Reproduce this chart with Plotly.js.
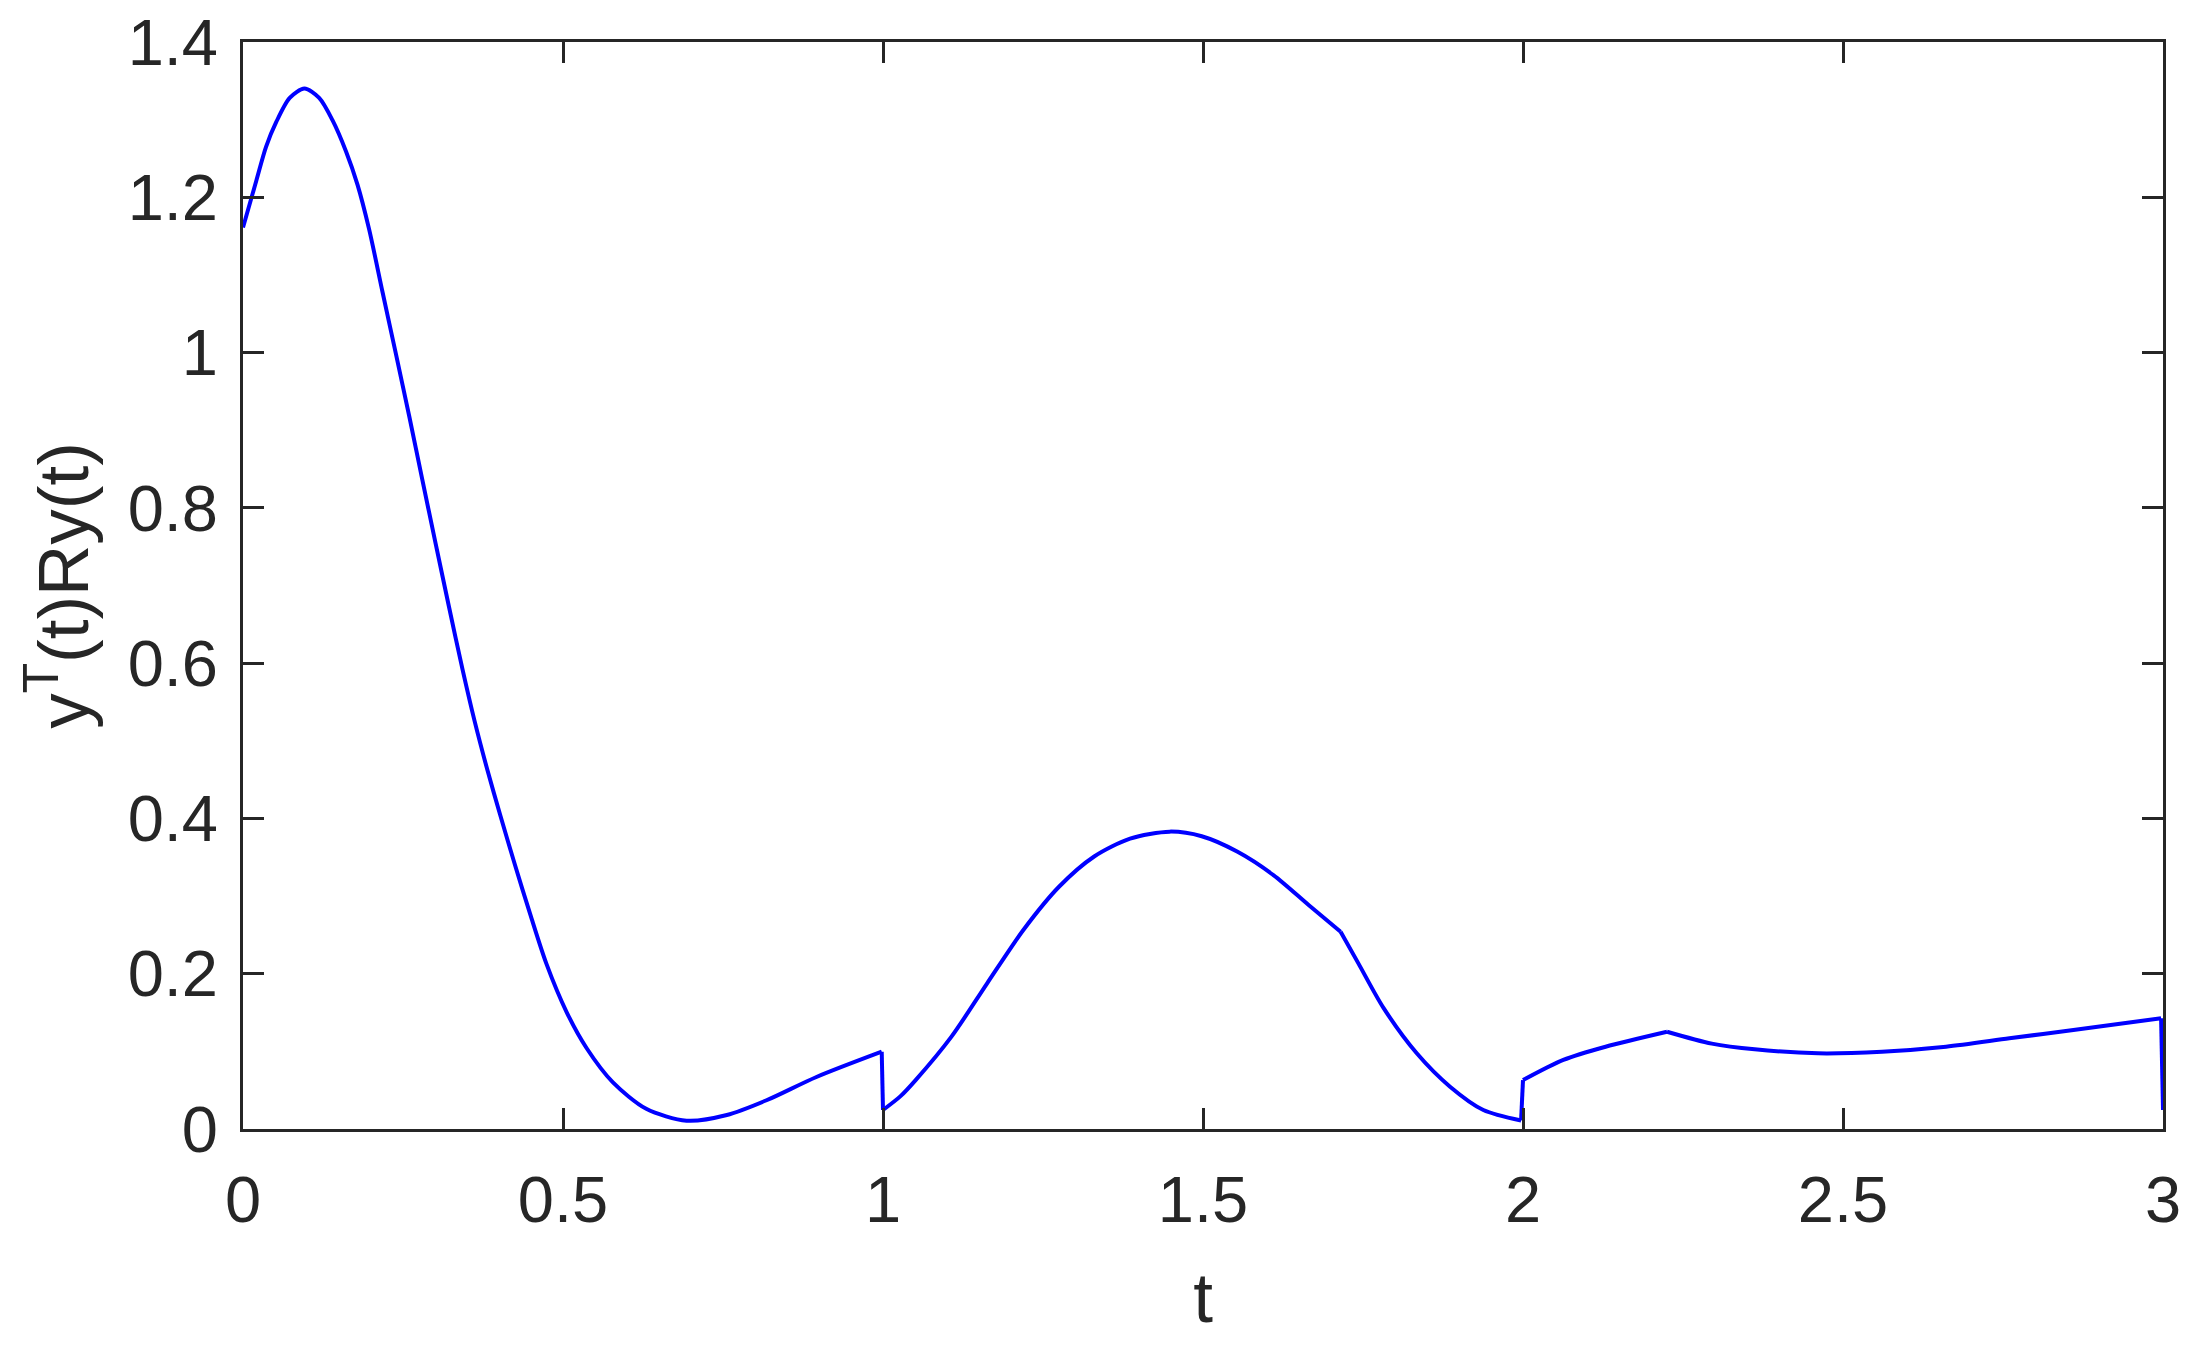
<!DOCTYPE html>
<html>
<head>
<meta charset="utf-8">
<script src="https://cdn.plot.ly/plotly-3.0.1.min.js"></script>
<style>
  html, body { margin: 0; padding: 0; background: #fff; }
  #graph { width: 2205px; height: 1364px; }
</style>
</head>
<body>
<div id="graph"></div>
<script>
// t values (jumps at t = 1, 2, 3 appear as repeated t)
var t = [0, 0.021, 0.036, 0.052, 0.073, 0.096, 0.119, 0.140, 0.161, 0.179,
  0.197, 0.218, 0.239, 0.260, 0.280, 0.301, 0.322, 0.343, 0.362, 0.382,
  0.402, 0.425, 0.449, 0.474, 0.506, 0.537, 0.578, 0.630, 0.693, 0.756,
  0.818, 0.896, 0.998,
  1.0, 1.027, 1.051, 1.107, 1.163, 1.219, 1.275, 1.330, 1.386, 1.448,
  1.498, 1.554, 1.610, 1.665, 1.715, 1.743, 1.782, 1.834, 1.886, 1.938,
  1.997,
  2.0, 2.063, 2.129, 2.225, 2.295, 2.362, 2.461, 2.561, 2.661, 2.760,
  2.860, 2.997, 3.0];

var yRy = [1.161, 1.222, 1.265, 1.297, 1.328, 1.340, 1.328, 1.299, 1.259, 1.216,
  1.159, 1.078, 0.998, 0.917, 0.837, 0.754, 0.672, 0.592, 0.525, 0.462,
  0.404, 0.340, 0.276, 0.213, 0.150, 0.104, 0.060, 0.026, 0.0107, 0.018,
  0.037, 0.067, 0.0996,
  0.0245, 0.042, 0.063, 0.119, 0.188, 0.256, 0.312, 0.351, 0.374, 0.383,
  0.377, 0.357, 0.327, 0.2885, 0.254, 0.213, 0.156, 0.0975, 0.0545, 0.0245,
  0.011,
  0.063, 0.089, 0.106, 0.1253, 0.110, 0.1026, 0.0975, 0.0996, 0.106, 0.1168,
  0.1275, 0.1426, 0.0245];

// corners where the curve bends sharply (not smoothed)
var kinkT = [1.715, 2.225];

var xTicks = [0, 0.5, 1, 1.5, 2, 2.5, 3];
var xTickText = ['0', '0.5', '1', '1.5', '2', '2.5', '3'];
var yTicks = [0, 0.2, 0.4, 0.6, 0.8, 1, 1.2, 1.4];
var yTickText = ['0', '0.2', '0.4', '0.6', '0.8', '1', '1.2', '1.4'];

var axisColor = '#262626';
var lineStyle = { color: '#0000ff', width: 4 };

// split into smooth pieces; jumps are drawn as straight segments
var traces = [];
var start = 0;
for (var i = 1; i <= t.length; i++) {
  var isJump = i < t.length && (t[i] - t[i - 1]) < 0.005;
  var isKink = i < t.length && kinkT.indexOf(t[i - 1]) >= 0 && i - 1 > start;
  if (i === t.length || isJump || isKink) {
    var end = i - 1;
    if (end > start) {
      traces.push({
        x: t.slice(start, end + 1), y: yRy.slice(start, end + 1),
        type: 'scatter', mode: 'lines',
        line: Object.assign({ shape: 'spline', smoothing: 0.8 }, lineStyle),
        hoverinfo: 'skip'
      });
    }
    if (isJump) {
      traces.push({
        x: [t[i - 1], t[i]], y: [yRy[i - 1], yRy[i]],
        type: 'scatter', mode: 'lines', line: lineStyle, hoverinfo: 'skip'
      });
      start = i;
    } else if (isKink) {
      start = i - 1;
    }
  }
}

var axisCommon = {
  showgrid: false,
  zeroline: false,
  showline: true,
  linecolor: axisColor,
  linewidth: 3,
  mirror: 'ticks',
  ticks: 'inside',
  ticklen: 21,
  tickwidth: 3,
  tickcolor: axisColor,
  tickfont: { family: 'Liberation Sans, Arial, sans-serif', size: 65, color: axisColor }
};

var layout = {
  width: 2205,
  height: 1364,
  margin: { l: 243, r: 42, t: 42, b: 235 },
  paper_bgcolor: '#ffffff',
  plot_bgcolor: '#ffffff',
  showlegend: false,
  xaxis: Object.assign({}, axisCommon, {
    range: [0, 3],
    tickvals: xTicks,
    ticktext: xTickText,
    ticklabelstandoff: 12,
    title: {
      text: 't',
      font: { family: 'Liberation Sans, Arial, sans-serif', size: 71, color: axisColor },
      standoff: 38
    }
  }),
  yaxis: Object.assign({}, axisCommon, {
    range: [0, 1.4],
    tickvals: yTicks,
    ticktext: yTickText,
    ticklabelstandoff: 9,
    title: {
      text: 'y<sup>T</sup>(t)Ry(t)',
      font: { family: 'Liberation Sans, Arial, sans-serif', size: 71, color: axisColor },
      standoff: 16
    }
  })
};

Plotly.newPlot('graph', traces, layout, { staticPlot: true });
</script>
</body>
</html>
